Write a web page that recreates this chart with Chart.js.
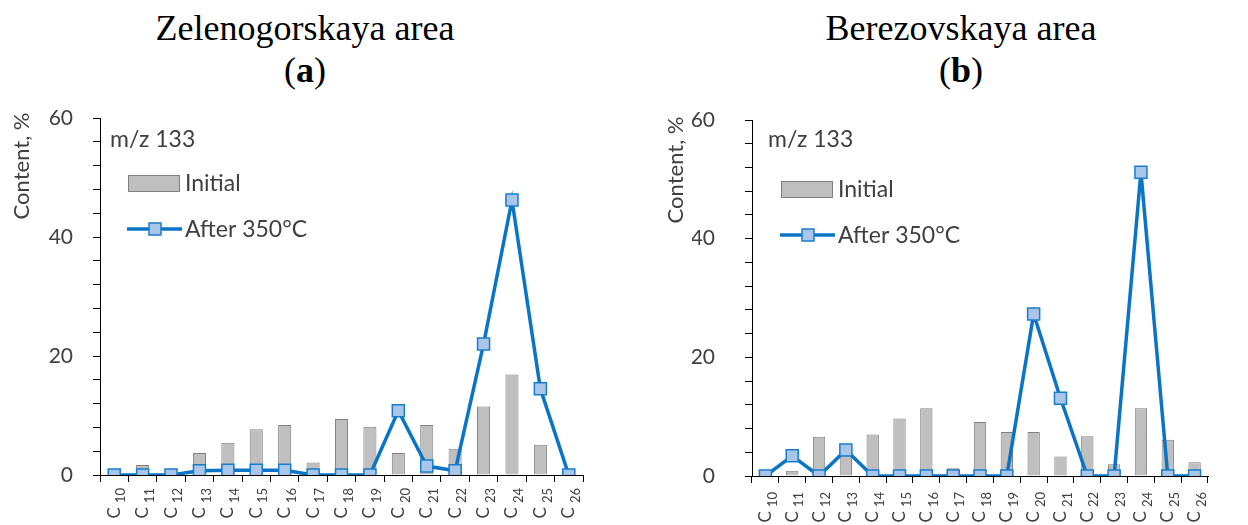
<!DOCTYPE html>
<html>
<head>
<meta charset="utf-8">
<script src="https://cdn.jsdelivr.net/npm/chart.js@4.4.0/dist/chart.umd.min.js"></script>
<style>
  body { margin: 0; width: 1248px; height: 525px; position: relative; background: #fff; overflow: hidden; }
  .panel { position: absolute; top: 0; width: 624px; height: 525px; }
  .title { position: absolute; font-family: "Liberation Serif", serif; font-size: 36px; line-height: 36px; color: #000; text-align: center; white-space: nowrap; }
</style>
</head>
<body>
<div class="title" style="left:105px;width:400px;top:10px">Zelenogorskaya area</div>
<div class="title" style="left:105px;width:400px;top:52px">(<b>a</b>)</div>
<div class="title" style="left:761px;width:400px;top:10px">Berezovskaya area</div>
<div class="title" style="left:761px;width:400px;top:52px">(<b>b</b>)</div>
<div class="panel" style="left:0"><canvas id="chartA" width="624" height="525"></canvas></div>
<div class="panel" style="left:624px"><canvas id="chartB" width="624" height="525"></canvas></div>
<script>
// carbon numbers of the homologues, C10 ... C26
const carbonNumbers = ["10", "11", "12", "13", "14", "15", "16", "17", "18", "19", "20", "21", "22", "23", "24", "25", "26"];

// Zelenogorskaya area, m/z 133
const initialA = [0, 1.7, 0, 3.7, 5.4, 7.7, 8.4, 2.1, 9.4, 8.1, 3.7, 8.4, 4.4, 11.5, 16.9, 5.1, 0];
const after350A = [0, 0, 0, 0.7, 0.8, 0.8, 0.8, 0, 0, 0, 10.8, 1.5, 0.7, 22.0, 46.2, 14.5, 0];

// Berezovskaya area, m/z 133
const initialB = [0, 0.9, 6.6, 4.2, 7.0, 9.7, 11.4, 1.3, 9.1, 7.4, 7.4, 3.3, 6.7, 2.0, 11.4, 6.1, 2.3];
const after350B = [0, 3.4, 0, 4.4, 0, 0, 0, 0, 0, 0, 27.3, 13.1, 0, 0, 51.2, 0, 0];

const yTickLabels = [0, 20, 40, 60];
const ionLabel = "m/z 133";
const yTitle = "Content, %";

const TEXT = "#404040";
const FONT = "Lato, sans-serif";

// axis labels with subscripts, y title and the inset legend
const decor = {
  id: "decor",
  afterDraw(chart, args, o) {
    const { ctx, chartArea, scales } = chart;
    const x = scales.x;
    ctx.save();
    ctx.fillStyle = TEXT;

    // C with subscript carbon number, rotated
    chart.data.labels.forEach((n, i) => {
      const px = x.getPixelForValue(i);
      ctx.save();
      ctx.translate(px, chartArea.bottom + o.labelGap);
      ctx.rotate(-Math.PI / 2);
      ctx.textAlign = "right";
      ctx.textBaseline = "middle";
      ctx.font = "13px " + FONT;
      ctx.fillText(n, 0, 7);
      const w = ctx.measureText(n).width;
      ctx.font = "17px " + FONT;
      ctx.fillText("C", -w - 4, 0);
      ctx.restore();
    });

    // y axis title
    ctx.save();
    ctx.translate(o.titleX, o.titleY);
    ctx.rotate(-Math.PI / 2);
    ctx.textAlign = "center";
    ctx.textBaseline = "middle";
    ctx.font = "22px " + FONT;
    ctx.fillText(yTitle, 0, 0);
    ctx.restore();

    // legend inside the plot
    const lx = chartArea.left, ly = chartArea.top;
    const bar = chart.data.datasets[1];
    const line = chart.data.datasets[0];
    ctx.font = "23px " + FONT;
    ctx.textBaseline = "middle";
    ctx.textAlign = "left";
    ctx.fillText(ionLabel, lx + o.ionX, ly + o.ionY);

    ctx.fillStyle = bar.backgroundColor;
    ctx.strokeStyle = bar.borderColor;
    ctx.lineWidth = 1;
    ctx.fillRect(lx + o.swX, ly + o.barY - 8, 52, 17);
    ctx.strokeRect(lx + o.swX + 0.5, ly + o.barY - 7.5, 51, 16);
    ctx.fillStyle = TEXT;
    ctx.fillText(bar.label, lx + o.swX + 57, ly + o.barY + 1);

    ctx.strokeStyle = line.borderColor;
    ctx.lineWidth = line.borderWidth;
    ctx.beginPath();
    ctx.moveTo(lx + o.swX - 1, ly + o.lineY);
    ctx.lineTo(lx + o.swX + 54, ly + o.lineY);
    ctx.stroke();
    ctx.fillStyle = line.pointBackgroundColor;
    ctx.strokeStyle = line.pointBorderColor;
    ctx.lineWidth = line.pointBorderWidth;
    ctx.fillRect(lx + o.swX + 21, ly + o.lineY - 6, 12, 12);
    ctx.strokeRect(lx + o.swX + 21, ly + o.lineY - 6, 12, 12);
    ctx.fillStyle = TEXT;
    ctx.fillText(line.label, lx + o.swX + 57, ly + o.lineY + 1);
    ctx.restore();
  }
};

function makeChart(id, initial, after, p) {
  return new Chart(document.getElementById(id), {
    type: "bar",
    data: {
      labels: carbonNumbers,
      datasets: [
        {
          type: "line",
          label: "After 350°C",
          data: after,
          order: 0,
          borderColor: "#0a74c6",
          borderWidth: 3.5,
          pointStyle: "rect",
          pointRadius: 8.5,
          pointBackgroundColor: "#a9c5ea",
          pointBorderColor: "#1a7dcc",
          pointBorderWidth: 1.5,
          tension: 0,
        },
        {
          label: "Initial",
          data: initial,
          order: 1,
          backgroundColor: "#bfbfbf",
          borderColor: "#808080",
          borderWidth: 1,
          barPercentage: 0.46,
          categoryPercentage: 1,
        },
      ],
    },
    options: {
      responsive: false,
      animation: false,
      layout: { padding: { left: p.padLeft, right: p.padRight, top: p.padTop, bottom: 0 } },
      plugins: {
        legend: { display: false },
        tooltip: { enabled: false },
        decor: p.decor,
      },
      scales: {
        x: {
          offset: true,
          ticks: { display: false },
          grid: { offset: true, drawOnChartArea: false, tickLength: 7, tickColor: "#000" },
          border: { color: "#000", width: 1 },
          afterFit: (s) => { s.height = p.xHeight; },
        },
        y: {
          min: 0,
          max: 60,
          ticks: {
            stepSize: 4,
            autoSkip: false,
            padding: p.tickPad,
            color: TEXT,
            font: { family: FONT, size: 21 },
            callback: (v) => (yTickLabels.includes(Math.round(v)) ? Math.round(v) : ""),
          },
          grid: { drawOnChartArea: false, tickLength: 7, tickColor: "#000" },
          border: { color: "#000", width: 1 },
          afterFit: (s) => { s.width = 60; },
        },
      },
    },
    plugins: [decor],
  });
}

makeChart("chartA", initialA, after350A, {
  padLeft: 40, padRight: 41, padTop: 118, xHeight: 50, tickPad: 20,
  decor: { labelGap: 13, titleX: 22, titleY: 166, ionX: 10, ionY: 22, swX: 28, barY: 65, lineY: 111 },
});

makeChart("chartB", initialB, after350B, {
  padLeft: 68, padRight: 40, padTop: 120, xHeight: 49, tickPad: 30,
  decor: { labelGap: 16, titleX: 52, titleY: 170, ionX: 16, ionY: 20, swX: 29, barY: 69, lineY: 115 },
});
</script>
</body>
</html>
